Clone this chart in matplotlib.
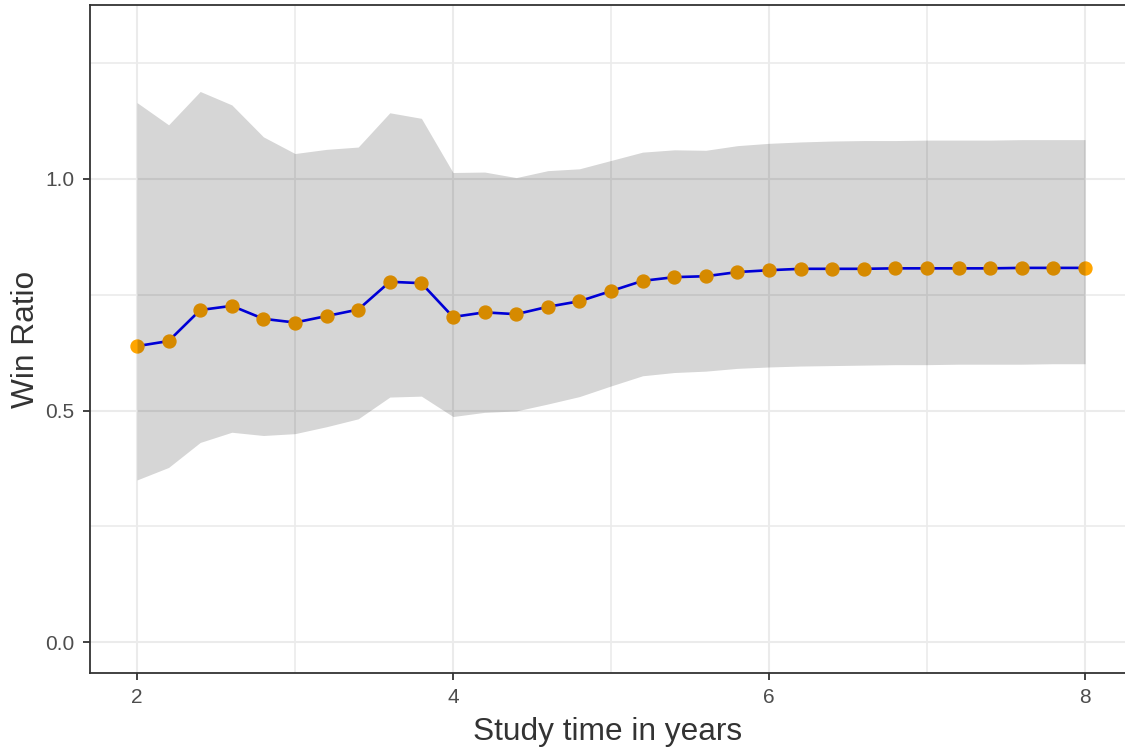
import matplotlib
matplotlib.use("Agg")
from matplotlib import pyplot as plt
from matplotlib.ticker import MultipleLocator

plt.rcParams['font.family'] = ['Liberation Sans', 'DejaVu Sans']

# Data
years = [2.0, 2.2, 2.4, 2.6, 2.8, 3.0, 3.2, 3.4, 3.6, 3.8,
         4.0, 4.2, 4.4, 4.6, 4.8, 5.0, 5.2, 5.4, 5.6, 5.8,
         6.0, 6.2, 6.4, 6.6, 6.8, 7.0, 7.2, 7.4, 7.6, 7.8, 8.0]
win_ratio = [0.639, 0.650, 0.717, 0.726, 0.698, 0.690, 0.704, 0.718, 0.778, 0.775,
             0.702, 0.712, 0.708, 0.724, 0.736, 0.758, 0.780, 0.788, 0.790, 0.799,
             0.803, 0.806, 0.806, 0.806, 0.807, 0.807, 0.807, 0.807, 0.808, 0.808, 0.808]
upper = [1.165, 1.117, 1.189, 1.160, 1.091, 1.055, 1.064, 1.069, 1.143, 1.131,
         1.014, 1.015, 1.003, 1.018, 1.022, 1.040, 1.058, 1.063, 1.062, 1.072,
         1.077, 1.080, 1.082, 1.083, 1.083, 1.084, 1.084, 1.084, 1.085, 1.085, 1.085]
lower = [0.350, 0.377, 0.431, 0.453, 0.446, 0.450, 0.465, 0.482, 0.529, 0.531,
         0.487, 0.496, 0.499, 0.514, 0.530, 0.553, 0.575, 0.582, 0.585, 0.591,
         0.594, 0.596, 0.597, 0.598, 0.599, 0.599, 0.600, 0.600, 0.600, 0.601, 0.601]

fig = plt.figure(figsize=(11.25, 7.52), dpi=100)
ax = fig.add_axes([0.08, 0.105, 0.92, 0.8885])

# grid (major + minor, ggplot style)
ax.xaxis.set_major_locator(MultipleLocator(2))
ax.xaxis.set_minor_locator(MultipleLocator(1))
ax.yaxis.set_major_locator(MultipleLocator(0.5))
ax.yaxis.set_minor_locator(MultipleLocator(0.25))
ax.grid(which='major', color='#ebebeb', linewidth=1.5, zorder=0)
ax.grid(which='minor', color='#ebebeb', linewidth=1.2, zorder=0)
ax.set_axisbelow(True)

# line + points, ribbon drawn on top (semi-transparent)
ax.plot(years, win_ratio, color='#0000ff', linewidth=1.9, zorder=2)
ax.plot(years, win_ratio, 'o', color='#ffa500', markersize=9.3, zorder=3)
ax.fill_between(years, lower, upper, color='black', alpha=0.16, linewidth=0, zorder=4)

ax.set_xlim(1.7025, 8.253)
ax.set_ylim(-0.067, 1.376)

ax.set_xticks([2, 4, 6, 8])
ax.set_xticklabels(['2', '4', '6', '8'])
ax.set_yticks([0.0, 0.5, 1.0])
ax.set_yticklabels(['0.0', '0.5', '1.0'])

ax.tick_params(which='major', length=5, width=1.3, color='#333333',
               labelsize=15, labelcolor='#4d4d4d', pad=6)
ax.tick_params(which='minor', length=0)

for side in ['left', 'bottom', 'top']:
    ax.spines[side].set_color('#333333')
    ax.spines[side].set_linewidth(1.3)
ax.spines['right'].set_visible(False)

ax.set_xlabel('Study time in years', fontsize=22.8, color='#333333', labelpad=7)
ax.set_ylabel('Win Ratio', fontsize=22.8, color='#333333', labelpad=3)

fig.savefig('out.png', dpi=100)
